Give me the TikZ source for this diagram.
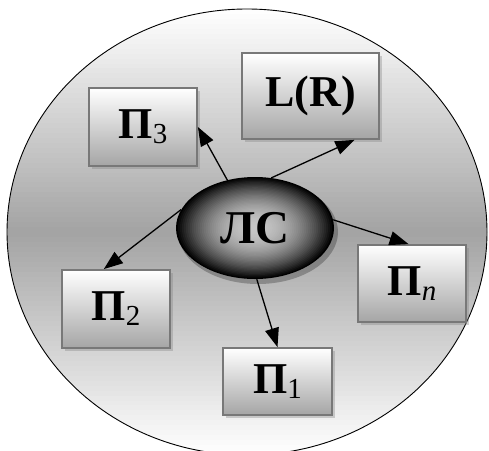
\documentclass[tikz,border=0pt]{standalone}
\usepackage{fontspec}
\setmainfont{Liberation Serif}
\usetikzlibrary{shadows,shapes.geometric,calc,arrows.meta}
\definecolor{boxline}{RGB}{120,120,120}
\definecolor{boxbottom}{RGB}{165,165,165}
\newcommand\subidx[1]{\raisebox{-5pt}{\fontsize{29}{31}\selectfont\mdseries #1}}
\begin{document}
\begin{tikzpicture}[x=1pt,y=-1pt,
  outerline/.style={draw=black, line width=0.9pt},
  box/.style={draw=boxline, line width=1.8pt, rectangle, top color=white, bottom color=boxbottom,
    drop shadow={opacity=0.35, shadow xshift=3pt, shadow yshift=-3pt},
    font=\bfseries\fontsize{44}{46}\selectfont, inner sep=0pt},
  core/.style={ellipse, minimum width=158pt, minimum height=102pt, inner sep=0pt,
    font=\bfseries\fontsize{47}{49}\selectfont},
  link/.style={line width=1.3pt, -{Triangle[length=19pt, width=14pt]}}]
\useasboundingbox (0,0) rectangle (489,450);
% outer ellipse with vertical light-dark-light gradient
\begin{scope}
  \clip (247,232) ellipse [x radius=240pt, y radius=223pt];
  \foreach \k in {0,...,89}{
    \pgfmathsetmacro\ya{9+\k*4.9556}
    \pgfmathsetmacro\yb{\ya+5.6}
    \pgfmathsetmacro\t{abs(\ya+2.5-232)/223}
    \pgfmathsetmacro\b{36*(1-\t)}
    \fill[black!\b] (0,\ya) rectangle (489,\yb);
  }
\end{scope}
\path[outerline] (247,232) ellipse [x radius=240pt, y radius=223pt];
% shaded central ellipse
\fill[black, opacity=0.25] (258,232) ellipse [x radius=80pt, y radius=52pt];
\foreach \k in {0,...,39}{
  \pgfmathsetmacro\f{1-\k/40}
  \pgfmathsetmacro\b{22+78*(\f^2)}
  \pgfmathsetmacro\rx{79*\f}
  \pgfmathsetmacro\ry{51*\f}
  \fill[black!\b] (255,228) ellipse [x radius=\rx pt, y radius=\ry pt];
}
\node[core] (lc) at (255,228) {ЛС};
\node[box, minimum width=108pt, minimum height=78pt] (p3) at (143,127) {П\subidx{3}};
\node[box, minimum width=137pt, minimum height=86pt] (lr) at (310.5,96) {L(R)};
\node[box, minimum width=108pt, minimum height=77pt] (pn) at (412,283.5) {П\subidx{\itshape n}};
\node[box, minimum width=108pt, minimum height=78pt] (p2) at (116,309) {П\subidx{2}};
\node[box, minimum width=109pt, minimum height=67pt] (p1) at (277.5,381.5) {П\subidx{1}};
\draw[link] (lc.120) -- (p3.east);
\draw[link] (lc.72) -- (lr.-45);
\draw[link] (lc.6) -- (pn.95);
\draw[link] (lc.166) -- (p2.107);
\draw[link] (lc.-88) -- (p1.north);
\end{tikzpicture}
\end{document}
